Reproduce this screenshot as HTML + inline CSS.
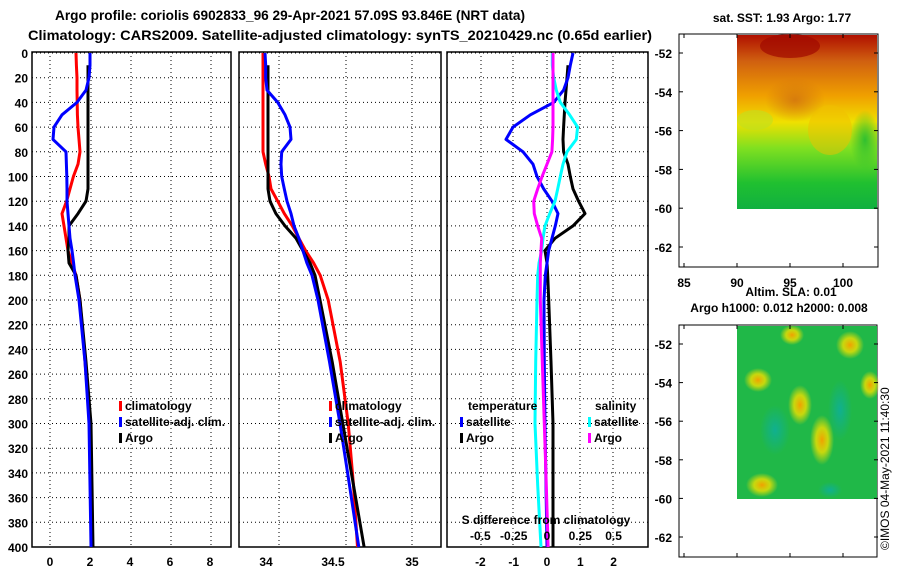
<!DOCTYPE html>
<html><head><meta charset="utf-8"><style>
body{margin:0;background:#fff}
svg{display:block}
text{font-family:"Liberation Sans",sans-serif;font-weight:bold;fill:#000}
</style></head><body>
<svg id="c" width="900" height="580" viewBox="0 0 900 580">
<defs>
<linearGradient id="sstg" x1="0" y1="0" x2="0" y2="1">
<stop offset="0" stop-color="#b01000"/><stop offset="0.15" stop-color="#d06010"/><stop offset="0.35" stop-color="#f0a000"/><stop offset="0.5" stop-color="#f0e000"/><stop offset="0.65" stop-color="#80e020"/><stop offset="0.85" stop-color="#20c030"/><stop offset="1" stop-color="#10b040"/>
</linearGradient>
<radialGradient id="yb"><stop offset="0" stop-color="#f0a000"/><stop offset="0.5" stop-color="#f0e000" stop-opacity="0.8"/><stop offset="1" stop-color="#f0e000" stop-opacity="0"/></radialGradient>
<radialGradient id="tb"><stop offset="0" stop-color="#10b090"/><stop offset="1" stop-color="#10b090" stop-opacity="0"/></radialGradient>
<radialGradient id="gb"><stop offset="0" stop-color="#30c030"/><stop offset="1" stop-color="#30c030" stop-opacity="0"/></radialGradient>
<radialGradient id="ob"><stop offset="0" stop-color="#d07010"/><stop offset="1" stop-color="#d07010" stop-opacity="0"/></radialGradient>
</defs>
<text x="55" y="20" font-size="14" textLength="470" lengthAdjust="spacingAndGlyphs">Argo profile: coriolis 6902833_96 29-Apr-2021 57.09S 93.846E (NRT data)</text>
<text x="28" y="40" font-size="14" textLength="624" lengthAdjust="spacingAndGlyphs">Climatology: CARS2009. Satellite-adjusted climatology: synTS_20210429.nc (0.65d earlier)</text>
<g id="panels"></g>
<g id="maps">
<text x="782" y="22" text-anchor="middle" font-size="12">sat. SST: 1.93 Argo: 1.77</text>
<rect x="679" y="34" width="199" height="233" fill="#fff" stroke="#000"/>
<rect x="737" y="35" width="140" height="174" fill="url(#sstg)"/>
<ellipse cx="790" cy="46" rx="30" ry="12" fill="#a00800" opacity="0.7"/>
<ellipse cx="795" cy="100" rx="30" ry="22" fill="url(#ob)" opacity="0.8"/>
<ellipse cx="830" cy="130" rx="22" ry="25" fill="#f0c000" opacity="0.5"/>
<ellipse cx="865" cy="140" rx="15" ry="30" fill="url(#gb)"/>
<ellipse cx="755" cy="120" rx="18" ry="10" fill="#c0e020" opacity="0.6"/>
<text x="791" y="296" text-anchor="middle" font-size="12">Altim. SLA: 0.01</text>
<text x="779" y="312" text-anchor="middle" font-size="12">Argo h1000: 0.012 h2000: 0.008</text>
<rect x="679" y="325" width="198" height="232" fill="#fff" stroke="#000"/>
<rect x="737" y="326" width="140" height="173" fill="#20b848"/>
<ellipse cx="758" cy="380" rx="14" ry="12" fill="url(#yb)"/>
<ellipse cx="792" cy="335" rx="12" ry="10" fill="url(#yb)"/>
<ellipse cx="800" cy="405" rx="12" ry="20" fill="url(#yb)"/>
<ellipse cx="822" cy="440" rx="12" ry="25" fill="url(#yb)"/>
<ellipse cx="762" cy="485" rx="16" ry="12" fill="url(#yb)"/>
<ellipse cx="850" cy="345" rx="14" ry="14" fill="url(#yb)"/>
<ellipse cx="870" cy="385" rx="10" ry="14" fill="url(#yb)"/>
<ellipse cx="775" cy="430" rx="15" ry="25" fill="url(#tb)"/>
<ellipse cx="840" cy="410" rx="12" ry="30" fill="url(#tb)"/>
<ellipse cx="830" cy="490" rx="12" ry="8" fill="url(#tb)"/>
<text transform="translate(889,550) rotate(-90)" font-size="12" style="font-weight:normal">©IMOS 04-May-2021 11:40:30</text>
</g>
</svg>
<script>
const depths=[0,10,20,30,40,50,60,70,80,90,100,110,120,130,140,150,160,170,180,200,250,300,350,400];
const tClim=[1.3,1.32,1.35,1.35,1.36,1.37,1.4,1.45,1.5,1.4,1.17,1.0,0.83,0.6,0.7,0.8,0.9,1.1,1.3,1.5,1.75,2.0,2.05,2.1];
const tSat=[2.0,2.0,1.95,1.8,1.35,0.6,0.2,0.15,0.8,0.82,0.84,0.85,0.85,0.9,0.95,1.0,1.1,1.18,1.25,1.45,1.75,1.95,2.0,2.05];
const tArgo=[null,1.9,1.9,1.9,1.9,1.9,1.9,1.9,1.9,1.9,1.9,1.9,1.8,1.4,0.95,0.95,0.9,0.95,1.3,1.5,1.8,2.05,2.1,2.15];
const sClim=[33.88,33.88,33.88,33.88,33.88,33.88,33.88,33.88,33.88,33.9,33.925,33.94,33.99,34.04,34.1,34.15,34.2,34.26,34.31,34.37,34.46,34.52,34.56,34.59];
const sSat=[33.895,33.9,33.9,33.91,33.99,34.045,34.083,34.09,34.02,34.015,34.02,34.04,34.06,34.09,34.113,34.15,34.18,34.21,34.248,34.293,34.38,34.459,34.53,34.6];
const sArgo=[null,33.917,33.917,33.917,33.917,33.917,33.917,33.917,33.917,33.917,33.917,33.917,33.932,33.977,34.045,34.128,34.18,34.233,34.271,34.308,34.40,34.48,34.56,34.64];
const dtSat=[0.78,0.7,0.63,0.5,0.2,-0.5,-1.02,-1.23,-0.72,-0.42,-0.3,-0.1,0.15,0.33,0.25,0.15,0.05,0,-0.05,-0.09,-0.08,-0.06,-0.03,0.0];
const dtArgo=[null,0.63,0.6,0.57,0.54,0.52,0.5,0.48,0.5,0.63,0.7,0.78,0.95,1.14,0.78,0.24,-0.06,0.0,0.02,0.05,0.12,0.18,0.18,0.18];
const dsSat=[0.04,0.04,0.05,0.07,0.1,0.17,0.23,0.22,0.15,0.12,0.1,0.08,0.06,0.02,-0.015,-0.03,-0.04,-0.06,-0.07,-0.075,-0.085,-0.09,-0.07,-0.045];
const dsArgo=[0.045,0.045,0.045,0.045,0.045,0.045,0.045,0.042,0.037,0.0,-0.037,-0.07,-0.1,-0.095,-0.07,-0.04,-0.045,-0.05,-0.05,-0.05,-0.035,-0.02,-0.005,0.008];
const depthTicks=[0,20,40,60,80,100,120,140,160,180,200,220,240,260,280,300,320,340,360,380,400];
const NS='http://www.w3.org/2000/svg';
const g=document.getElementById('panels');
const Y=d=>53+d*1.235;
function el(tag,attrs,parent){const e=document.createElementNS(NS,tag);for(const k in attrs)e.setAttribute(k,attrs[k]);(parent||g).appendChild(e);return e;}
function txt(x,y,s,size,anchor){const e=el('text',{x:x,y:y,'font-size':size||12,'text-anchor':anchor||'middle'});e.textContent=s;return e;}
const panels=[
 {name:'temperature-panel',x0:32,x1:231,grid:[50,91,131,171,211]},
 {name:'salinity-panel',x0:239,x1:441,grid:[279,346,412]},
 {name:'difference-panel',x0:447,x1:648,grid:[481,513,547,580,613]}
];
panels.forEach(p=>{
 const pg=el('g',{});
 
 
 depthTicks.forEach(d=>{const l=el('line',{x1:p.x0,x2:p.x1,y1:Y(d),y2:Y(d),stroke:'#000','stroke-dasharray':'1,3'},pg);});
 p.grid.forEach(x=>{const l=el('line',{x1:x,x2:x,y1:52,y2:547,stroke:'#000','stroke-dasharray':'1,3'},pg);});
 const r=el('rect',{x:p.x0,y:52,width:p.x1-p.x0,height:495,fill:'none',stroke:'#000','stroke-width':1.5},pg);
 
 p.g=pg;
});
depthTicks.forEach(d=>{const t=txt(28,Y(d)+5,String(d),12,'end');});
const tX=v=>50+20*v, sX=v=>279+(v-34)*133, dX=v=>547+33.3*v, dsX=v=>547+133.2*v;
function line(vals,sx,color,name,parent){
 let d='';vals.forEach((v,i)=>{if(v===null)return;d+=(d?'L':'M')+sx(v).toFixed(1)+','+Y(depths[i]).toFixed(1);});
 const p=el('path',{d:d,fill:'none',stroke:color,'stroke-width':3,'stroke-linejoin':'round'},parent);
 
 
}
line(tClim,tX,'#f00','temp-climatology-line',panels[0].g);
line(tArgo,tX,'#000','temp-argo-line',panels[0].g);
line(tSat,tX,'#00f','temp-satellite-line',panels[0].g);
line(sClim,sX,'#f00','sal-climatology-line',panels[1].g);
line(sArgo,sX,'#000','sal-argo-line',panels[1].g);
line(sSat,sX,'#00f','sal-satellite-line',panels[1].g);
line(dtArgo,dX,'#000','tdiff-argo-line',panels[2].g);
line(dtSat,dX,'#00f','tdiff-satellite-line',panels[2].g);
line(dsSat,dsX,'#0ff','sdiff-satellite-line',panels[2].g);
line(dsArgo,dsX,'#f0f','sdiff-argo-line',panels[2].g);
const tTicks=['0','2','4','6','8'],tTickV=[0,2,4,6,8];
tTickV.forEach((v,i)=>{const t=txt(tX(v),566,tTicks[i]);});
const sTicks=['34','34.5','35'],sTickX=[266,333,412];
sTicks.forEach((s,i)=>{const t=txt(sTickX[i],566,s);});
const dTicks=['-2','-1','0','1','2'],dTickV=[-2,-1,0,1,2];
dTickV.forEach((v,i)=>{const t=txt(dX(v),566,dTicks[i]);});
const dsTicks=['-0.5','-0.25','0','0.25','0.5'],dsTickV=[-0.5,-0.25,0,0.25,0.5];
dsTickV.forEach((v,i)=>{const t=txt(dsX(v),540,dsTicks[i]);});
const sd=txt(546,524,'S difference from climatology');
function leg(x,y,color,label){
 const r=el('rect',{x:x,y:y-9,width:3,height:10,fill:color});
 const t=txt(x+6,y,label,12,'start');
}
leg(119,410,'#f00','climatology');leg(119,426,'#00f','satellite-adj. clim.');leg(119,442,'#000','Argo');
leg(329,410,'#f00','climatology');leg(329,426,'#00f','satellite-adj. clim.');leg(329,442,'#000','Argo');
const lt=txt(468,410,'temperature',12,'start');
leg(460,426,'#00f','satellite');leg(460,442,'#000','Argo');
const ls=txt(595,410,'salinity',12,'start');
leg(588,426,'#0ff','satellite');leg(588,442,'#f0f','Argo');
const m=document.getElementById('maps');
const latTicks=['-52','-54','-56','-58','-60','-62'];
const latV=[-52,-54,-56,-58,-60,-62];
const lonTicks=['85','90','95','100'],lonV=[85,90,95,100];
const latY1=v=>53+(-52-v)*19.4, latY2=v=>344+(-52-v)*19.3, lonX=v=>684+(v-85)*10.6;
latV.forEach((v,i)=>{
 const a=txt(672,latY1(v)+5,latTicks[i],12,'end');m.appendChild(a);
 const b=txt(672,latY2(v)+5,latTicks[i],12,'end');m.appendChild(b);
 [latY1(v),latY2(v)].forEach(y=>{el('line',{x1:679,x2:683,y1:y,y2:y,stroke:'#000'},m);el('line',{x1:874,x2:878,y1:y,y2:y,stroke:'#000'},m);});
});
lonV.forEach((v,i)=>{
 const a=txt(lonX(v),287,lonTicks[i],12);m.appendChild(a);
 [[34,38],[263,267],[325,329],[553,557]].forEach(p=>el('line',{x1:lonX(v),x2:lonX(v),y1:p[0],y2:p[1],stroke:'#000'},m));
});
</script>
</body></html>
